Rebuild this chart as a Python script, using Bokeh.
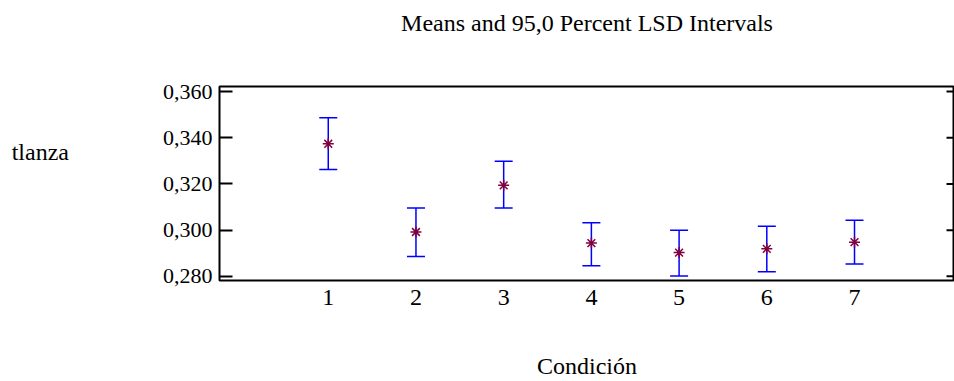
import math
from bokeh.plotting import figure
from bokeh.models import (ColumnDataSource, Whisker, TeeHead, FixedTicker, Range1d,
                          LinearAxis)
from bokeh.embed import file_html
from bokeh.resources import INLINE

# ---- data ----
conditions = [1, 2, 3, 4, 5, 6, 7]
means = [0.3374, 0.2992, 0.3194, 0.2944, 0.2903, 0.2919, 0.2948]
upper = [0.3487, 0.3096, 0.3298, 0.3032, 0.3000, 0.3017, 0.3043]
lower = [0.3263, 0.2886, 0.3096, 0.2846, 0.2802, 0.2820, 0.2853]
y_ticks = [0.28, 0.30, 0.32, 0.34, 0.36]
y_tick_labels = ["0,280", "0,300", "0,320", "0,340", "0,360"]
x_tick_labels = ["1", "2", "3", "4", "5", "6", "7"]
title_text = "Means and 95,0 Percent LSD Intervals"
x_title = "Condición"
y_title = "tlanza"

FONT = "Liberation Serif"
X_START, X_END = -0.24, 8.14

src = ColumnDataSource(dict(x=conditions, mean=means, upper=upper, lower=lower))

p = figure(width=954, height=381, output_backend="svg", toolbar_location=None,
           x_range=Range1d(X_START, X_END), y_range=Range1d(0.2782, 0.3622),
           min_border_left=219, min_border_right=0, min_border_top=86,
           min_border_bottom=100)

p.grid.visible = False
p.outline_line_color = "black"
p.outline_line_width = 2
p.background_fill_color = "white"
p.border_fill_color = "white"

# x axis (bottom)
xa = p.below[0]
xa.ticker = FixedTicker(ticks=conditions)
xa.major_label_overrides = {c: l for c, l in zip(conditions, x_tick_labels)}
xa.major_tick_in = 0
xa.major_tick_out = 0
xa.minor_tick_line_color = None
xa.axis_line_color = None
xa.major_label_text_font = FONT
xa.major_label_text_font_size = "24px"
xa.major_label_text_color = "black"
xa.major_label_standoff = 9
xa.axis_label = x_title
xa.axis_label_text_font = FONT
xa.axis_label_text_font_size = "24px"
xa.axis_label_text_font_style = "normal"
xa.axis_label_text_color = "black"
xa.axis_label_standoff = 45

# title, drawn as the label of a bare top axis
ta = LinearAxis(ticker=FixedTicker(ticks=[]), major_tick_in=0, major_tick_out=0,
                minor_tick_line_color=None, axis_line_color=None,
                major_label_text_font_size="0px", major_label_standoff=0,
                axis_label=title_text, axis_label_text_font=FONT,
                axis_label_text_font_size="24px", axis_label_text_font_style="normal",
                axis_label_text_color="black", axis_label_standoff=51)
p.add_layout(ta, "above")

# y axis (left)
ya = p.left[0]
ya.ticker = FixedTicker(ticks=y_ticks)
ya.major_label_overrides = {t: l for t, l in zip(y_ticks, y_tick_labels)}
ya.major_tick_in = 13
ya.major_tick_out = 0
ya.major_tick_line_width = 2
ya.minor_tick_line_color = None
ya.axis_line_color = None
ya.major_label_text_font = FONT
ya.major_label_text_font_size = "22px"
ya.major_label_text_color = "black"
ya.major_label_standoff = 7
ya.axis_label = y_title + "\n\n"
ya.axis_label_orientation = "horizontal"
ya.axis_label_text_font = FONT
ya.axis_label_text_font_size = "24px"
ya.axis_label_text_font_style = "normal"
ya.axis_label_text_color = "black"
ya.axis_label_standoff = 91

# right-hand tick marks at the y tick values, pointing inward from the frame edge
p.ray(x=[X_END] * len(y_ticks), y=y_ticks, length=8, length_units="screen",
      angle=math.pi, line_color="black", line_width=2)

# error bars
w = Whisker(source=src, base="x", upper="upper", lower="lower",
            line_color="#0000ff", line_width=1.5,
            upper_head=TeeHead(size=18, line_color="#0000ff", line_width=1.5),
            lower_head=TeeHead(size=18, line_color="#0000ff", line_width=1.5))
p.add_layout(w)

# means
p.scatter("x", "mean", source=src, marker="asterisk", size=11,
          line_color="#800040", line_width=1.5)

open("out.html", "w").write(file_html(p, INLINE))
